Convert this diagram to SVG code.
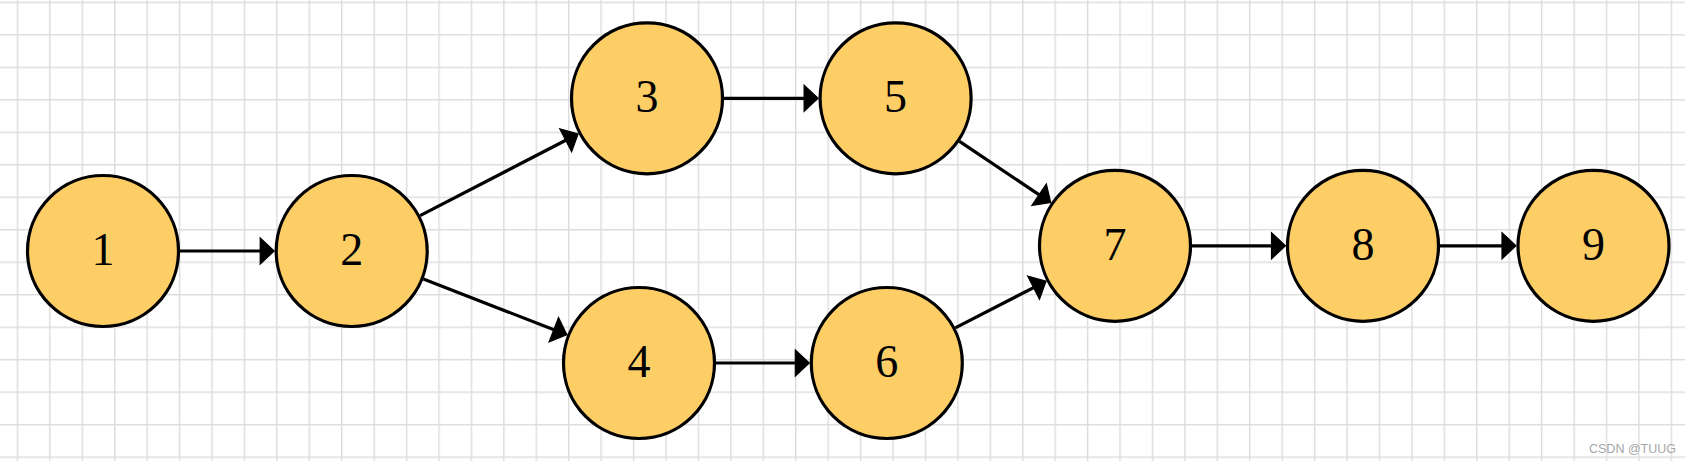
<svg xmlns="http://www.w3.org/2000/svg" width="1685" height="461" viewBox="0 0 1685 461">
  <style>
    .node circle { fill: #FDCD66; stroke: #000; stroke-width: 3.2; }
    .node text { font-family: "Liberation Serif", "DejaVu Serif", serif; font-size: 46px; fill: #000; text-anchor: middle; }
    .edge { stroke: #000; stroke-width: 3.2; fill: none; marker-end: url(#arrow); }
    .wm { font-family: "Liberation Sans", Arial, sans-serif; font-size: 12.5px; fill: #a6a6a6; text-anchor: end; }
  </style>
  <defs>
    <pattern id="grid" patternUnits="userSpaceOnUse" x="16.7" y="1.7" width="32.43" height="32.48">
      <rect x="0" y="0" width="32.43" height="1.4" fill="#dcdcdc"/>
      <rect x="0" y="0" width="1.4" height="32.48" fill="#dcdcdc"/>
    </pattern>
    <marker id="arrow" markerUnits="userSpaceOnUse" viewBox="-1 -1 17 30" markerWidth="17" markerHeight="30" refX="11" refY="14" orient="auto">
      <path d="M0.5,1 L14.5,14 L0.5,27 Z" fill="#000" stroke="#000" stroke-width="1.2" stroke-linejoin="miter"/>
    </marker>
  </defs>
  <rect width="1685" height="461" fill="#ffffff"/>
  <rect width="1685" height="461" fill="url(#grid)"/>

  <g id="connectors">
    <line class="edge" x1="180" y1="251" x2="270.7" y2="251"/>
    <line class="edge" x1="420.1" y1="215.6" x2="575.0" y2="135.5"/>
    <line class="edge" x1="423.4" y1="279.0" x2="563.6" y2="333.5"/>
    <line class="edge" x1="724" y1="98.3" x2="814.6" y2="98.3"/>
    <line class="edge" x1="716" y1="363" x2="805.8" y2="363"/>
    <line class="edge" x1="959.5" y1="141.3" x2="1047.8" y2="200.6"/>
    <line class="edge" x1="955.3" y1="327.8" x2="1042.9" y2="282.8"/>
    <line class="edge" x1="1192" y1="245.8" x2="1282" y2="245.8"/>
    <line class="edge" x1="1440" y1="245.8" x2="1512.5" y2="245.8"/>
  </g>

  <g id="node1" class="node"><circle cx="103" cy="251" r="75.5"/><text x="103" y="265">1</text></g>
  <g id="node2" class="node"><circle cx="351.7" cy="251" r="75.5"/><text x="351.7" y="265">2</text></g>
  <g id="node3" class="node"><circle cx="647" cy="98.3" r="75.5"/><text x="647" y="112.3">3</text></g>
  <g id="node4" class="node"><circle cx="639" cy="363" r="75.5"/><text x="639" y="377">4</text></g>
  <g id="node5" class="node"><circle cx="895.6" cy="98.3" r="75.5"/><text x="895.6" y="112.3">5</text></g>
  <g id="node6" class="node"><circle cx="886.8" cy="363" r="75.5"/><text x="886.8" y="377">6</text></g>
  <g id="node7" class="node"><circle cx="1115" cy="245.8" r="75.5"/><text x="1115" y="259.5">7</text></g>
  <g id="node8" class="node"><circle cx="1363" cy="245.8" r="75.5"/><text x="1363" y="259.5">8</text></g>
  <g id="node9" class="node"><circle cx="1593.5" cy="245.8" r="75.5"/><text x="1593.5" y="259.5">9</text></g>

  <text class="wm" x="1676" y="453">CSDN @TUUG</text>
</svg>
